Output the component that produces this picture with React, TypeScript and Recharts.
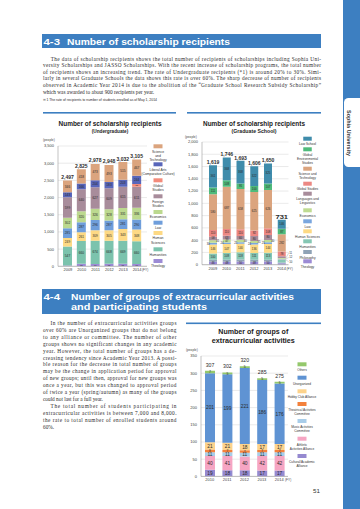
import React from 'react';
import { BarChart, Bar, XAxis, YAxis, CartesianGrid, LabelList } from 'recharts';

// ================= DATA =================
// 4-3 Undergraduate scholarship recipients (people)
const ugYears = ['2009', '2010', '2011', '2012', '2013', '2014'];
const ugTheology = [26, 73, 69, 75, 75, 66];
const ugHumanities = [547, 660, 674, 668, 669, 660];
const ugHumanSciences = [249, 261, 309, 305, 343, 348];
const ugLaw = [285, 287, 296, 287, 281, 290];
const ugEconomics = [302, 320, 326, 328, 331, 336];
const ugForeignStudies = [599, 640, 627, 609, 615, 611];
const ugGlobalStudies = [0, 0, 0, 0, 0, 83];
const ugLiberalArts = [143, 166, 204, 183, 203, 244];
const ugScienceTech = [346, 418, 473, 493, 515, 467];
const ugTicks = [0, 500, 1000, 1500, 2000, 2500, 3000, 3500];

// 4-3 Graduate School scholarship recipients (people)
const gsYears = ['2009', '2010', '2011', '2012', '2013', '2014'];
const gsTheology = [46, 48, 50, 48, 50, 23];
const gsPhilosophy = [36, 34, 33, 33, 32, 12];
const gsHumanities = [100, 109, 118, 111, 113, 40];
const gsHumanSciences = [146, 147, 140, 136, 144, 10];
const gsLaw = [30, 24, 25, 24, 25, 12];
const gsEconomics = [41, 47, 40, 35, 40, 11];
const gsLanguages = [58, 63, 60, 80, 80, 30];
const gsGlobalStudies = [110, 110, 110, 92, 108, 78];
const gsScienceTech = [580, 687, 658, 625, 626, 282];
const gsGlobalEnv = [111, 109, 91, 100, 107, 87];
const gsLawSchool = [361, 368, 368, 322, 325, 146];
const gsTicks = [0, 200, 400, 600, 800, 1000, 1200, 1400, 1600, 1800, 2000];

// 4-4 Number of groups of extracurricular activities
const ecYears = ['2010', '2011', '2012', '2013', '2014'];
const ecCultural = [19, 18, 18, 17, 17];
const ecAthletic = [40, 41, 40, 42, 42];
const ecMusic = [11, 11, 11, 11, 11];
const ecTheatrical = [8, 7, 7, 7, 7];
const ecHobby = [21, 21, 18, 17, 17];
const ecUnorganized = [201, 199, 221, 186, 176];
const ecOthers = [7, 5, 5, 5, 5];
const ecTicks = [0, 50, 100, 150, 200, 250, 300, 350];

// ================= STYLE =================
const SANS = '"Liberation Sans", Arial, Helvetica, sans-serif';
const SERIF = '"Liberation Serif", "Times New Roman", serif';
const BLUE = '#3d7fc1';
const TXT = '#2b2b2b';
const fmt = (n: number) => n.toLocaleString('en-US');

type Ser = {
  key: string;
  label: string[];
  color: string;
  values: number[];
  side?: 'left' | 'right';
  off14?: number;
};

const ugSeries: Ser[] = [
  { key: 'theology', label: ['Theology'], color: '#9c8bd5', values: ugTheology },
  { key: 'humanities', label: ['Humanities'], color: '#7cc3ad', values: ugHumanities },
  { key: 'humanSci', label: ['Human', 'Sciences'], color: '#fdd984', values: ugHumanSciences },
  { key: 'law', label: ['Law'], color: '#6f9edb', values: ugLaw },
  { key: 'econ', label: ['Economics'], color: '#bcd98f', values: ugEconomics },
  { key: 'foreign', label: ['Foreign', 'Studies'], color: '#a88c9b', values: ugForeignStudies },
  { key: 'global', label: ['Global', 'Studies'], color: '#f38b7b', values: ugGlobalStudies },
  { key: 'liberal', label: ['Liberal Arts', '(Comparative Culture)'], color: '#5866ba', values: ugLiberalArts },
  { key: 'scitech', label: ['Science', 'and', 'Technology'], color: '#dba47e', values: ugScienceTech },
];

const gsSeries: Ser[] = [
  { key: 'theology', label: ['Theology'], color: '#9c8bd5', values: gsTheology },
  { key: 'philosophy', label: ['Philosophy'], color: '#8fa3b6', values: gsPhilosophy },
  { key: 'humanities', label: ['Humanities'], color: '#86c7b4', values: gsHumanities },
  { key: 'humanSci', label: ['Human Sciences'], color: '#fdd984', values: gsHumanSciences, off14: 2 },
  { key: 'law', label: ['Law'], color: '#7aa6de', values: gsLaw, side: 'left', off14: -1.6 },
  { key: 'econ', label: ['Economics'], color: '#bfdb92', values: gsEconomics, side: 'right', off14: -5.6 },
  { key: 'languages', label: ['Languages and', 'Linguistics'], color: '#a88c9b', values: gsLanguages },
  { key: 'global', label: ['Global Studies'], color: '#ec8883', values: gsGlobalStudies },
  { key: 'scitech', label: ['Science and', 'Technology'], color: '#dba47e', values: gsScienceTech },
  { key: 'globalEnv', label: ['Global', 'Environmental', 'Studies'], color: '#4fbb7b', values: gsGlobalEnv },
  { key: 'lawSchool', label: ['Law School'], color: '#3f8cab', values: gsLawSchool },
];

const ecSeries: Ser[] = [
  { key: 'cultural', label: ['Cultural/Academic', 'Alliance'], color: '#9589d0', values: ecCultural },
  { key: 'athletic', label: ['Athletic', 'Activities Alliance'], color: '#f6a5c3', values: ecAthletic },
  { key: 'music', label: ['Music Activities', 'Committee'], color: '#a8cde9', values: ecMusic },
  { key: 'theatrical', label: ['Theatrical Activities', 'Committee'], color: '#f3813c', values: ecTheatrical },
  { key: 'hobby', label: ['Hobby Club Alliance'], color: '#fdd38c', values: ecHobby },
  { key: 'unorganized', label: ['Unorganized'], color: '#5f93d3', values: ecUnorganized },
  { key: 'others', label: ['Others'], color: '#94c86c', values: ecOthers },
];

function buildRows(years: string[], series: Ser[]) {
  return years.map((year, i) => {
    const row: Record<string, any> = { year };
    let total = 0;
    series.forEach((s) => {
      row[s.key] = s.values[i];
      total += s.values[i];
    });
    row.total = total;
    return row;
  });
}

const ugRows = buildRows(ugYears, ugSeries);
const gsRows = buildRows(gsYears, gsSeries);
const ecRows = buildRows(ecYears, ecSeries);

function box(p: any) {
  const b = p && p.x !== undefined ? p : p.viewBox || {};
  let x = Number(b.x), y = Number(b.y), w = Number(b.width), h = Number(b.height);
  if (h < 0) { y = y + h; h = -h; }
  return { x, y, w, h };
}

type Cfg = {
  px0: number; px1: number; py0: number; py1: number;
  padL: number; padR: number; max: number; ticks: number[];
  barSize: number; segFont: number; minH: number;
  totFont: number; totBold: boolean; totGap: number; totW?: number; special?: boolean;
};

function StackChart({ rows, series, cfg }: { rows: any[]; series: Ser[]; cfg: Cfg }) {
  const yW = 20;
  const mR = 12;
  const boxLeft = cfg.px0 - yW - 2;
  const boxTop = cfg.py0 - 4;
  const width = cfg.px1 + mR - boxLeft;
  const height = cfg.py1 + 11 - boxTop;

  const segLabel = (s: Ser) => (p: any) => {
    const { x, y, w, h } = box(p);
    const v = Number(p.value);
    if (!v || isNaN(x)) return null;
    const cx = x + w / 2;
    const cy = y + h / 2;
    const idx = p.index;
    if (cfg.special && idx === rows.length - 1 && s.off14 !== undefined) {
      const ly = cy + s.off14;
      return (
        <g>
          <line x1={x + w} y1={cy} x2={x + w + 3} y2={ly} stroke="#777" strokeWidth={0.3} />
          <text x={x + w + 3.4} y={ly} dy="0.35em" fontSize={2.8} fill={TXT} fontFamily={SANS}>{v}</text>
        </g>
      );
    }
    if (h >= cfg.minH) {
      return (
        <text x={cx} y={cy} dy="0.36em" textAnchor="middle" fontSize={cfg.segFont} fill={TXT} fontFamily={SANS}>
          {v}
        </text>
      );
    }
    if (cfg.special && s.side === 'left') {
      return <text x={x + 0.8} y={cy} dy="0.35em" textAnchor="end" fontSize={2.8} fill={TXT} fontFamily={SANS}>{v}</text>;
    }
    if (cfg.special && s.side === 'right') {
      return <text x={x + w - 0.8} y={cy} dy="0.35em" textAnchor="start" fontSize={2.8} fill={TXT} fontFamily={SANS}>{v}</text>;
    }
    if (!cfg.special && h >= 1.5) {
      return (
        <text x={cx} y={cy} dy="0.36em" textAnchor="middle" fontSize={cfg.segFont * 0.7} fill={TXT} fontFamily={SANS}>
          {v}
        </text>
      );
    }
    return null;
  };

  const totalLabel = (p: any) => {
    const { x, y, w } = box(p);
    if (isNaN(x)) return null;
    const extra = cfg.totW ? { textLength: cfg.totW, lengthAdjust: 'spacingAndGlyphs' } : {};
    return (
      <text x={x + w / 2} y={y - cfg.totGap} textAnchor="middle" fontSize={cfg.totFont}
        fontWeight={cfg.totBold ? 'bold' : 'normal'} fill={TXT} fontFamily={SANS} {...extra}>
        {fmt(Number(p.value))}
      </text>
    );
  };

  return (
    <div style={{ position: 'absolute', left: boxLeft, top: boxTop }}>
      <BarChart width={width} height={height} data={rows}
        margin={{ top: 4, right: mR, bottom: 1, left: 2 }} style={{ overflow: 'visible' }}>
        <CartesianGrid vertical={false} stroke="#d4d4d4" strokeWidth={0.5} />
        <XAxis dataKey="year" height={10} interval={0} tickLine={false} tickSize={1} tickMargin={1}
          padding={{ left: cfg.padL, right: cfg.padR }}
          axisLine={{ stroke: '#9a9a9a', strokeWidth: 0.6 }}
          tick={{ fontSize: 4, fill: '#444', fontFamily: SANS }} />
        <YAxis type="number" width={yW} domain={[0, cfg.max]} ticks={cfg.ticks} interval={0}
          tickFormatter={(v: number) => fmt(v)} tickLine={false} tickSize={2} tickMargin={2}
          axisLine={{ stroke: '#9a9a9a', strokeWidth: 0.6 }} allowDataOverflow
          tick={{ fontSize: 4, fill: '#444', fontFamily: SANS }} />
        {series.map((s, i) => (
          <Bar key={s.key} dataKey={s.key} stackId="a" fill={s.color} barSize={cfg.barSize}
            isAnimationActive={false}>
            <LabelList dataKey={s.key} content={segLabel(s)} />
            {i === series.length - 1 ? <LabelList dataKey="total" content={totalLabel} /> : null}
          </Bar>
        ))}
      </BarChart>
    </div>
  );
}

function LegendBlock({ series, cx, tops, sqW, sqH, font, lh, gap }:
  { series: Ser[]; cx: number; tops: number[]; sqW: number; sqH: number; font: number; lh: number; gap: number }) {
  const items = [...series].reverse();
  return (
    <g>
      {items.map((s, i) => (
        <g key={s.key}>
          <rect x={cx - sqW / 2} y={tops[i]} width={sqW} height={sqH} fill={s.color} />
          {s.label.map((ln, j) => (
            <text key={j} x={cx} y={tops[i] + sqH + gap + j * lh} textAnchor="middle" fontSize={font}
              fill="#333" fontFamily={SANS}>{ln}</text>
          ))}
        </g>
      ))}
    </g>
  );
}

// paragraph text lines
const p43 = [
  'The data of scholarship recipients shows the total number of recipients of scholarships including Sophia Uni-',
  'versity Scholarships and JASSO Scholarships.  With the recent increase of scholarship programs, the total number',
  'of recipients shows an increasing trend.  The rate of Undergraduate recipients (*1) is around 20% to 30%.  Simi-',
  'larly in several Graduate Schools the data shows this rate is over 60%. The sharp decrease of number of recipients',
  'observed in Academic Year 2014 is due to the abolition of the \u201cGraduate School Research Subsidy Scholarship\u201d',
  'which was awarded to about 900 recipients per year.',
];
const p44 = [
  'In the number of extracurricular activities groups',
  'over 60% are Unorganized groups that do not belong',
  'to any alliance or committee. The number of other',
  'groups shows no significant changes in any academic',
  'year. However, the total number of groups has a de-',
  'creasing tendency since Academic Year 2013. A possi-',
  'ble reason for the decrease in total number of groups',
  'may be the change in application period for approval',
  'of new groups; until then, approval for new groups was',
  'once a year, but this was changed to approval period',
  'of twice a year (spring/autumn) as many of the groups',
  'could not last for a full year.',
  'The total number of students participating in',
  'extracurricular activities is between 7,000 and 8,000.',
  'the rate to total number of enrolled students around',
  '60%.',
];
const p44Indent = [0, 12];
const p44Last = [11, 15];

function Overlay() {
  return (
    <svg width={360} height={509} style={{ position: 'absolute', left: 0, top: 0 }}>
      {/* right side strip */}
      <rect x={343} y={0} width={17} height={509} fill={BLUE} />
      <path d="M360,98 H348.5 A4.5,4.5 0 0 0 344,102.5 V162.5 A4.5,4.5 0 0 0 348.5,167 H360 Z" fill="#fff" />
      <text transform="translate(347.2,110) rotate(90)" fontSize={4.6} fontWeight="bold" fill="#333"
        fontFamily={SANS} textLength={46} lengthAdjust="spacingAndGlyphs">Sophia University</text>

      {/* 4-3 header */}
      <rect x={42} y={34} width={279} height={14} fill={BLUE} />
      <text x={43.5} y={44.6} fontSize={9.6} fontWeight="bold" fill="#fff" fontFamily={SANS}
        textLength={16.5} lengthAdjust="spacingAndGlyphs">4-3</text>
      <text x={67} y={44.6} fontSize={9.6} fontWeight="bold" fill="#fff" fontFamily={SANS}
        textLength={163} lengthAdjust="spacingAndGlyphs">Number of scholarship recipients</text>

      {/* 4-3 paragraph */}
      {p43.map((ln, i) => {
        const x0 = i === 0 ? 50.7 : 43;
        const last = i === p43.length - 1;
        return (
          <text key={i} x={x0} y={60.5 + i * 6.6} fontSize={5.3} fill={TXT} fontFamily={SERIF}
            {...(last ? {} : { textLength: 321 - x0, lengthAdjust: 'spacing' })}>{ln}</text>
        );
      })}
      <text x={43} y={100.8} fontSize={3} fill={TXT} fontFamily={SANS} textLength={114}
        lengthAdjust="spacingAndGlyphs">{'\u203b1  The rate of recipients to number of students enrolled as of May 1, 2014'}</text>

      {/* chart title rules */}
      <rect x={43} y={112} width={133} height={1.6} fill={BLUE} />
      <rect x={187} y={112} width={134} height={1.6} fill={BLUE} />
      <text x={110} y={126} textAnchor="middle" fontSize={7.6} fontWeight="bold" fill="#222" fontFamily={SANS}
        textLength={103} lengthAdjust="spacingAndGlyphs">Number of scholarship recipients</text>
      <text x={110} y={132.8} textAnchor="middle" fontSize={5.2} fontWeight="bold" fill="#222" fontFamily={SANS}
        textLength={36.5} lengthAdjust="spacingAndGlyphs">(Undergraduate)</text>
      <text x={254} y={126} textAnchor="middle" fontSize={7.6} fontWeight="bold" fill="#222" fontFamily={SANS}
        textLength={102} lengthAdjust="spacingAndGlyphs">Number of scholarship recipients</text>
      <text x={254} y={132.8} textAnchor="middle" fontSize={5.2} fontWeight="bold" fill="#222" fontFamily={SANS}
        textLength={45} lengthAdjust="spacingAndGlyphs">(Graduate School)</text>

      <text x={43} y={140.5} fontSize={3.2} fill="#444" fontFamily={SANS}>(people)</text>
      <text x={142} y={270.6} fontSize={3.2} fill="#444" fontFamily={SANS}>(FY)</text>
      <text x={185} y={138.3} fontSize={3.2} fill="#444" fontFamily={SANS}>(people)</text>
      <text x={286.5} y={269.6} fontSize={3.2} fill="#444" fontFamily={SANS}>(FY)</text>

      <LegendBlock series={ugSeries} cx={158} tops={[144.3, 162.3, 178.3, 194.3, 210, 220.7, 231, 247.3, 259]}
        sqW={9} sqH={4} font={3.4} lh={4.3} gap={4.4} />
      <LegendBlock series={gsSeries} cx={307.5}
        tops={[136.7, 147.3, 166.7, 181.7, 191.7, 208.3, 219.3, 229.3, 239.3, 250, 259.3]}
        sqW={8.5} sqH={4} font={3.3} lh={4} gap={4.5} />

      {/* 4-4 header */}
      <rect x={42} y={289} width={279} height={25} fill={BLUE} />
      <text x={43.5} y={299.6} fontSize={9.6} fontWeight="bold" fill="#fff" fontFamily={SANS}
        textLength={16.5} lengthAdjust="spacingAndGlyphs">4-4</text>
      <text x={71} y={299.6} fontSize={9.6} fontWeight="bold" fill="#fff" fontFamily={SANS}
        textLength={223} lengthAdjust="spacingAndGlyphs">Number of groups of extracurricular activities</text>
      <text x={71} y={310.3} fontSize={9.6} fontWeight="bold" fill="#fff" fontFamily={SANS}
        textLength={136} lengthAdjust="spacingAndGlyphs">and participating students</text>

      {/* 4-4 paragraph */}
      {p44.map((ln, i) => {
        const x0 = p44Indent.includes(i) ? 50.5 : 43;
        const last = p44Last.includes(i);
        return (
          <text key={i} x={x0} y={325 + i * 6.9} fontSize={5.3} fill={TXT} fontFamily={SERIF}
            {...(last ? {} : { textLength: 176.5 - x0, lengthAdjust: 'spacing' })}>{ln}</text>
        );
      })}

      {/* 4-4 chart title */}
      <rect x={186} y={322.5} width={135} height={1.6} fill={BLUE} />
      <text x={253.3} y={334.3} textAnchor="middle" fontSize={7.6} fontWeight="bold" fill="#222" fontFamily={SANS}
        textLength={70} lengthAdjust="spacingAndGlyphs">Number of groups of</text>
      <text x={253.3} y={343.3} textAnchor="middle" fontSize={7.6} fontWeight="bold" fill="#222" fontFamily={SANS}
        textLength={83} lengthAdjust="spacingAndGlyphs">extracurricular activities</text>
      <text x={186} y={351} fontSize={3.2} fill="#444" fontFamily={SANS}>(people)</text>
      <text x={285} y={480.6} fontSize={3.2} fill="#444" fontFamily={SANS}>(FY)</text>
      <LegendBlock series={ecSeries} cx={302} tops={[362.3, 375.7, 389.3, 402, 419, 436.7, 454]}
        sqW={9} sqH={4} font={3.2} lh={4.2} gap={5} />

      <text x={313} y={492.5} fontSize={6.2} fill="#333" fontFamily={SANS}>51</text>
    </svg>
  );
}

export default function App() {
  return (
    <div style={{ position: 'absolute', left: 0, top: 0, width: 360, height: 509, background: '#fff', overflow: 'hidden' }}>
      <Overlay />
      <StackChart rows={ugRows} series={ugSeries}
        cfg={{ px0: 58, px1: 147, py0: 145.7, py1: 266, padL: 3, padR: 3, max: 3500, ticks: ugTicks,
          barSize: 9, segFont: 3.2, minH: 3.2, totFont: 5.6, totBold: true, totGap: 1.5, totW: 12.6 }} />
      <StackChart rows={gsRows} series={gsSeries}
        cfg={{ px0: 202, px1: 288.5, py0: 142.3, py1: 265, padL: 4, padR: 0, max: 2000, ticks: gsTicks,
          barSize: 8, segFont: 2.9, minH: 2.7, totFont: 5.6, totBold: true, totGap: 1.2, totW: 12.6, special: true }} />
      <StackChart rows={ecRows} series={ecSeries}
        cfg={{ px0: 201, px1: 288, py0: 355.9, py1: 476.3, padL: 0, padR: 0, max: 350, ticks: ecTicks,
          barSize: 10, segFont: 4.8, minH: 3.5, totFont: 5.2, totBold: false, totGap: 4.2 }} />
    </div>
  );
}
